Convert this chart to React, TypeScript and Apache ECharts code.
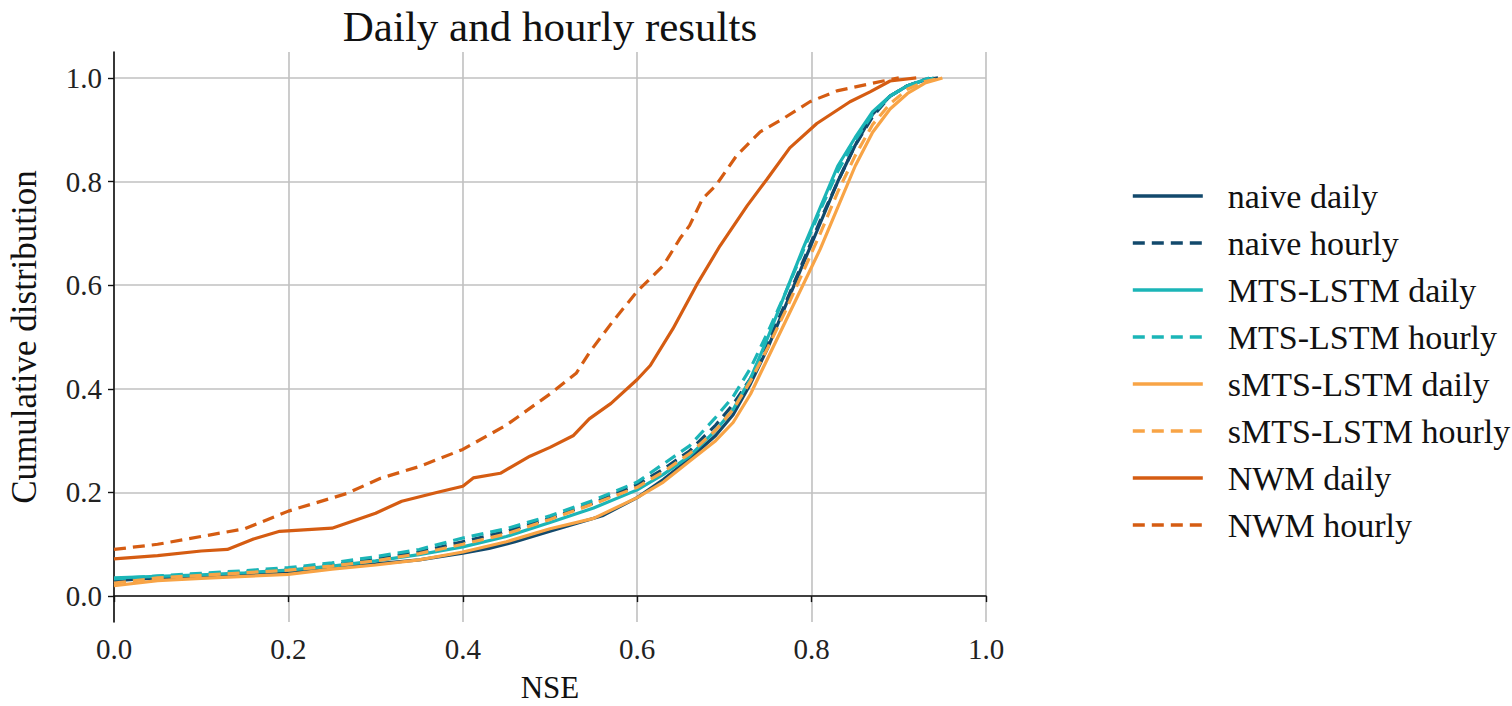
import React, { useEffect, useRef } from "react";
import * as echarts from "echarts";

const TITLE = "Daily and hourly results";
const X_NAME = "NSE";
const Y_NAME = "Cumulative distribution";
const TICKS = [0, 0.2, 0.4, 0.6, 0.8, 1.0];

const seriesNames = [
  "naive daily",
  "naive hourly",
  "MTS-LSTM daily",
  "MTS-LSTM hourly",
  "sMTS-LSTM daily",
  "sMTS-LSTM hourly",
  "NWM daily",
  "NWM hourly",
];

const naiveDaily = [
  [0, 0.03], [0.05, 0.035], [0.1, 0.038], [0.15, 0.041], [0.2, 0.045], [0.25, 0.055], [0.3, 0.062],
  [0.35, 0.07], [0.4, 0.083], [0.43, 0.092], [0.46, 0.105], [0.5, 0.125], [0.53, 0.14], [0.56, 0.155],
  [0.6, 0.19], [0.63, 0.225], [0.66, 0.265], [0.69, 0.31], [0.71, 0.35], [0.73, 0.41], [0.75, 0.48],
  [0.77, 0.56], [0.79, 0.64], [0.81, 0.72], [0.83, 0.8], [0.85, 0.87], [0.87, 0.93], [0.89, 0.965],
  [0.91, 0.985], [0.93, 0.996], [0.945, 1.0],
];
const naiveHourly = [
  [0, 0.03], [0.05, 0.037], [0.1, 0.042], [0.15, 0.047], [0.2, 0.052], [0.25, 0.06], [0.3, 0.072],
  [0.35, 0.085], [0.4, 0.105], [0.45, 0.125], [0.5, 0.15], [0.55, 0.18], [0.6, 0.215], [0.63, 0.245],
  [0.66, 0.28], [0.69, 0.33], [0.71, 0.37], [0.73, 0.42], [0.75, 0.49], [0.77, 0.565], [0.79, 0.645],
  [0.81, 0.725], [0.83, 0.8], [0.85, 0.87], [0.87, 0.925], [0.89, 0.965], [0.91, 0.985], [0.93, 0.997],
  [0.945, 1.0],
];
const mtsDaily = [
  [0, 0.035], [0.05, 0.038], [0.1, 0.041], [0.15, 0.045], [0.2, 0.05], [0.25, 0.058], [0.3, 0.068],
  [0.35, 0.08], [0.4, 0.095], [0.45, 0.115], [0.5, 0.142], [0.55, 0.17], [0.6, 0.205], [0.63, 0.235],
  [0.66, 0.27], [0.69, 0.32], [0.71, 0.36], [0.73, 0.42], [0.75, 0.5], [0.77, 0.585], [0.79, 0.67],
  [0.81, 0.75], [0.83, 0.83], [0.85, 0.885], [0.87, 0.935], [0.89, 0.965], [0.91, 0.985], [0.935, 1.0],
];
const mtsHourly = [
  [0, 0.033], [0.05, 0.039], [0.1, 0.044], [0.15, 0.049], [0.2, 0.055], [0.25, 0.064], [0.3, 0.076],
  [0.35, 0.09], [0.4, 0.112], [0.45, 0.13], [0.5, 0.155], [0.55, 0.185], [0.6, 0.22], [0.63, 0.255],
  [0.66, 0.29], [0.69, 0.345], [0.71, 0.385], [0.73, 0.44], [0.75, 0.51], [0.77, 0.585], [0.79, 0.665],
  [0.81, 0.745], [0.83, 0.82], [0.85, 0.88], [0.87, 0.93], [0.89, 0.965], [0.91, 0.985], [0.94, 1.0],
];
const smtsDaily = [
  [0, 0.02], [0.05, 0.03], [0.1, 0.034], [0.15, 0.038], [0.2, 0.042], [0.25, 0.052], [0.3, 0.06],
  [0.35, 0.07], [0.4, 0.085], [0.45, 0.105], [0.5, 0.13], [0.55, 0.15], [0.6, 0.19], [0.63, 0.22],
  [0.66, 0.26], [0.69, 0.3], [0.71, 0.335], [0.73, 0.39], [0.75, 0.46], [0.77, 0.53], [0.79, 0.6],
  [0.81, 0.67], [0.83, 0.75], [0.85, 0.83], [0.87, 0.895], [0.89, 0.94], [0.91, 0.97], [0.93, 0.99],
  [0.95, 1.0],
];
const smtsHourly = [
  [0, 0.025], [0.05, 0.035], [0.1, 0.04], [0.15, 0.045], [0.2, 0.05], [0.25, 0.058], [0.3, 0.068],
  [0.35, 0.082], [0.4, 0.1], [0.45, 0.12], [0.5, 0.148], [0.55, 0.178], [0.6, 0.21], [0.63, 0.24],
  [0.66, 0.275], [0.69, 0.32], [0.71, 0.36], [0.73, 0.415], [0.75, 0.48], [0.77, 0.55], [0.79, 0.625],
  [0.81, 0.7], [0.83, 0.78], [0.85, 0.85], [0.87, 0.91], [0.89, 0.95], [0.91, 0.978], [0.93, 0.993],
  [0.95, 1.0],
];
const nwmDaily = [
  [0, 0.072], [0.05, 0.078], [0.1, 0.087], [0.13, 0.09], [0.16, 0.11], [0.19, 0.125], [0.25, 0.131],
  [0.3, 0.16], [0.33, 0.183], [0.37, 0.2], [0.4, 0.212], [0.412, 0.228], [0.443, 0.237], [0.477, 0.27],
  [0.5, 0.287], [0.527, 0.31], [0.545, 0.342], [0.57, 0.372], [0.6, 0.418], [0.615, 0.445],
  [0.641, 0.516], [0.668, 0.6], [0.695, 0.676], [0.726, 0.753], [0.749, 0.805], [0.775, 0.865],
  [0.806, 0.912], [0.844, 0.954], [0.867, 0.973], [0.89, 0.994], [0.92, 1.0],
];
const nwmHourly = [
  [0, 0.09], [0.05, 0.1], [0.1, 0.115], [0.15, 0.13], [0.2, 0.164], [0.267, 0.198], [0.305, 0.227],
  [0.35, 0.25], [0.4, 0.283], [0.45, 0.33], [0.5, 0.39], [0.53, 0.43], [0.546, 0.472], [0.572, 0.53],
  [0.6, 0.588], [0.63, 0.638], [0.649, 0.69], [0.66, 0.715], [0.675, 0.767], [0.69, 0.792],
  [0.714, 0.85], [0.741, 0.896], [0.767, 0.921], [0.798, 0.954], [0.829, 0.975], [0.882, 0.994],
  [0.9, 1.0],
];

const seriesData = [naiveDaily, naiveHourly, mtsDaily, mtsHourly, smtsDaily, smtsHourly, nwmDaily, nwmHourly];
const seriesColors = ["#12496c", "#12496c", "#1bb5b7", "#1bb5b7", "#f8a446", "#f8a446", "#d55c12", "#d55c12"];
const seriesDashed = [false, true, false, true, false, true, false, true];

const FONT = "'Liberation Serif', 'DejaVu Serif', serif";

export default function App() {
  const ref = useRef<HTMLDivElement>(null);
  useEffect(() => {
    document.body.style.margin = "0";
    const chart = echarts.init(ref.current!, null, { renderer: "svg" });
    const series = seriesNames.map((name, i) => ({
      name,
      type: "line",
      data: seriesData[i],
      symbol: "none",
      smooth: false,
      lineStyle: {
        color: seriesColors[i],
        width: 3.2,
        type: seriesDashed[i] ? [12, 7] : "solid",
      },
      itemStyle: { color: seriesColors[i] },
      z: 2 + i,
    }));
    chart.setOption({
      animation: false,
      backgroundColor: "#ffffff",
      textStyle: { fontFamily: FONT },
      graphic: [
        {
          type: "text",
          x: 550,
          y: 5,
          style: {
            text: TITLE,
            fontFamily: FONT,
            fontSize: 43,
            fill: "#111",
            textAlign: "center",
          },
        },
      ],
      grid: {
        left: 114,
        right: 526,
        top: 52,
        bottom: 84,
        containLabel: false,
        outerBoundsMode: "none",
      },
      legend: {
        orient: "vertical",
        left: 1126,
        top: 174,
        itemWidth: 70,
        itemHeight: 14,
        itemGap: 13,
        data: seriesNames,
        itemStyle: { opacity: 0 },
        lineStyle: { width: 3.6 },
        textStyle: { fontFamily: FONT, fontSize: 34, color: "#111", padding: [0, 0, 0, 20] },
      },
      xAxis: {
        type: "value",
        min: 0,
        max: 1,
        interval: 0.2,
        name: X_NAME,
        nameLocation: "middle",
        nameGap: 50,
        nameTextStyle: { fontFamily: FONT, fontSize: 31, color: "#111" },
        axisLine: { show: true, lineStyle: { color: "#111", width: 1.6 } },
        axisTick: { show: true, length: 6, lineStyle: { color: "#111", width: 1.4 } },
        axisLabel: {
          fontFamily: FONT,
          fontSize: 29,
          color: "#222",
          margin: 12,
          formatter: (v: number) => v.toFixed(1),
        },
        splitLine: { show: true, lineStyle: { color: "#c0c0c0", width: 1.6 } },
      },
      yAxis: {
        type: "value",
        min: -0.05,
        max: 1.05,
        name: Y_NAME,
        nameLocation: "middle",
        nameGap: 72,
        nameTextStyle: { fontFamily: FONT, fontSize: 35, color: "#111" },
        axisLine: { show: true, lineStyle: { color: "#111", width: 1.6 } },
        axisTick: { show: true, length: 6, customValues: TICKS, lineStyle: { color: "#111", width: 1.4 } },
        axisLabel: {
          fontFamily: FONT,
          fontSize: 29,
          color: "#222",
          margin: 12,
          customValues: TICKS,
          formatter: (v: number) => v.toFixed(1),
        },
        splitLine: { show: true, lineStyle: { color: "#c0c0c0", width: 1.6 } },
      },
      series,
    });
    return () => chart.dispose();
  }, []);
  return <div ref={ref} style={{ width: 1512, height: 706 }} />;
}
